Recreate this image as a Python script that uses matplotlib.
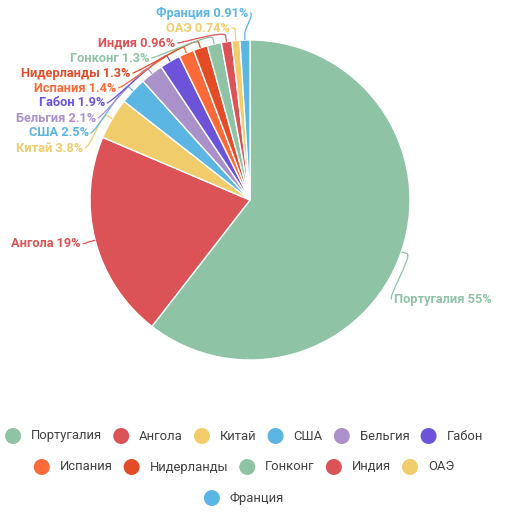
import matplotlib
matplotlib.use('Agg')
import matplotlib.pyplot as plt
import numpy as np
from matplotlib.path import Path
from matplotlib.patches import PathPatch, Circle

# ---- data ----
countries = ['Португалия', 'Ангола', 'Китай', 'США', 'Бельгия', 'Габон',
             'Испания', 'Нидерланды', 'Гонконг', 'Индия', 'ОАЭ', 'Франция']
shares = [55, 19, 3.8, 2.5, 2.1, 1.9, 1.4, 1.3, 1.3, 0.96, 0.74, 0.91]
colors = ['#8fc3a6', '#db5356', '#f0cc6b', '#5cb6e4', '#ab91c9', '#6c53d9',
          '#fd6a39', '#e34c26', '#8fc3a6', '#db5356', '#f0cc6b', '#5cb6e4']

# ---- layout (pixels) ----
W, H = 518, 522
CX, CY, RAD = 250, 200, 160
LABEL_DIST = 13
LABEL_SPACING = 15
LABEL_TOP = 13
LABEL_NUDGE = {'Португалия': 43}
LEG_CX, LEG_Y0, LEG_DY, LEG_MAXW = 244, 436, 31, 490
LABEL_FS = 12.8 * 0.72
LEGEND_FS = 13 * 0.72

plt.rcParams['font.family'] = ['Roboto', 'DejaVu Sans']
fig = plt.figure(figsize=(W / 100, H / 100), dpi=100)
ax = fig.add_axes([0, 0, 1, 1])

wedges, _ = ax.pie(shares, colors=colors, startangle=90, counterclock=False,
                   radius=1, center=(0, 0),
                   wedgeprops=dict(edgecolor='white', linewidth=1.0))
ax.set_xlim(-CX / RAD, (W - CX) / RAD)
ax.set_ylim(-(H - CY) / RAD, CY / RAD)
ax.set_aspect('auto')
ax.axis('off')

u = 1.0 / RAD  # one pixel in data units
RL = 1 + LABEL_DIST * u

# ---- data label layout (Highcharts-like distribution) ----
info = []
for i, w in enumerate(wedges):
    m = np.deg2rad((w.theta1 + w.theta2) / 2)
    left = np.cos(m) < 0
    ny = RL * np.sin(m) - LABEL_NUDGE.get(countries[i], 0) * u
    info.append(dict(i=i, m=m, left=left, y=ny))

s = LABEL_SPACING * u
top_bound = (CY - LABEL_TOP) * u
for side in (True, False):
    items = sorted([d for d in info if d['left'] == side], key=lambda d: -d['y'])
    groups = [[d] for d in items]
    def gtop(g):
        return np.mean([d['y'] for d in g]) + (len(g) - 1) / 2 * s
    changed = True
    while changed:
        changed = False
        for k in range(len(groups) - 1):
            g1, g2 = groups[k], groups[k + 1]
            bot1 = gtop(g1) - (len(g1) - 1) * s
            if gtop(g2) > bot1 - s:
                groups[k] = g1 + g2
                del groups[k + 1]
                changed = True
                break
    ys = []
    for g in groups:
        t = gtop(g)
        for j, d in enumerate(g):
            ys.append(t - j * s)
    for j in range(len(ys)):
        if j == 0:
            ys[j] = min(ys[j], top_bound)
        else:
            ys[j] = min(ys[j], ys[j - 1] - s)
    for d, yv in zip(items, ys):
        d['y'] = yv

for d in info:
    i, m, left, y = d['i'], d['m'], d['left'], d['y']
    ang = np.arcsin(np.clip(y / RL, -1, 1))
    xc = (-1 if left else 1) * RL * np.cos(ang)
    sign = -1 if left else 1
    touch = np.array([np.cos(m), np.sin(m)])
    brk = touch * (1 + 6 * u)
    c2 = 2 * brk - touch
    c1 = np.array([xc - sign * 5 * u, y])
    verts = [(xc, y), tuple(c1), tuple(c2), tuple(brk), tuple(touch)]
    codes = [Path.MOVETO, Path.CURVE4, Path.CURVE4, Path.CURVE4, Path.LINETO]
    ax.add_patch(PathPatch(Path(verts, codes), fill=False, edgecolor=colors[i],
                           linewidth=0.9))
    ax.text(xc + sign * 2 * u, y, f"{countries[i]} {shares[i]:g}%",
            ha='right' if left else 'left', va='center', fontsize=LABEL_FS,
            fontweight='bold', color=colors[i])

# ---- legend (flow layout) ----
fig.canvas.draw()
r = fig.canvas.get_renderer()
widths = []
for name in countries:
    t = ax.text(0, 0, name, fontsize=LEGEND_FS)
    widths.append(t.get_window_extent(r).width)
    t.remove()

ITEM_PAD, ITEM_GAP = 26, 11
rows, cur, curw = [], [], 0
for k, wt in enumerate(widths):
    iw = ITEM_PAD + wt
    add = iw if not cur else iw + ITEM_GAP
    if cur and curw + add > LEG_MAXW:
        rows.append((cur, curw))
        cur, curw = [k], iw
    else:
        cur.append(k)
        curw += add
rows.append((cur, curw))

for ri, (row, rw) in enumerate(rows):
    xp = LEG_CX - rw / 2
    yp = LEG_Y0 + ri * LEG_DY
    for k in row:
        mx, my = (xp + 8 - CX) * u, (CY - yp) * u
        ax.add_patch(Circle((mx, my), 8 * u, color=colors[k], lw=0))
        ax.text((xp + ITEM_PAD - CX) * u, my, countries[k], ha='left',
                va='center', fontsize=LEGEND_FS, color='#404040')
        xp += ITEM_PAD + widths[k] + ITEM_GAP

fig.savefig('out.png', dpi=100, facecolor='white')
